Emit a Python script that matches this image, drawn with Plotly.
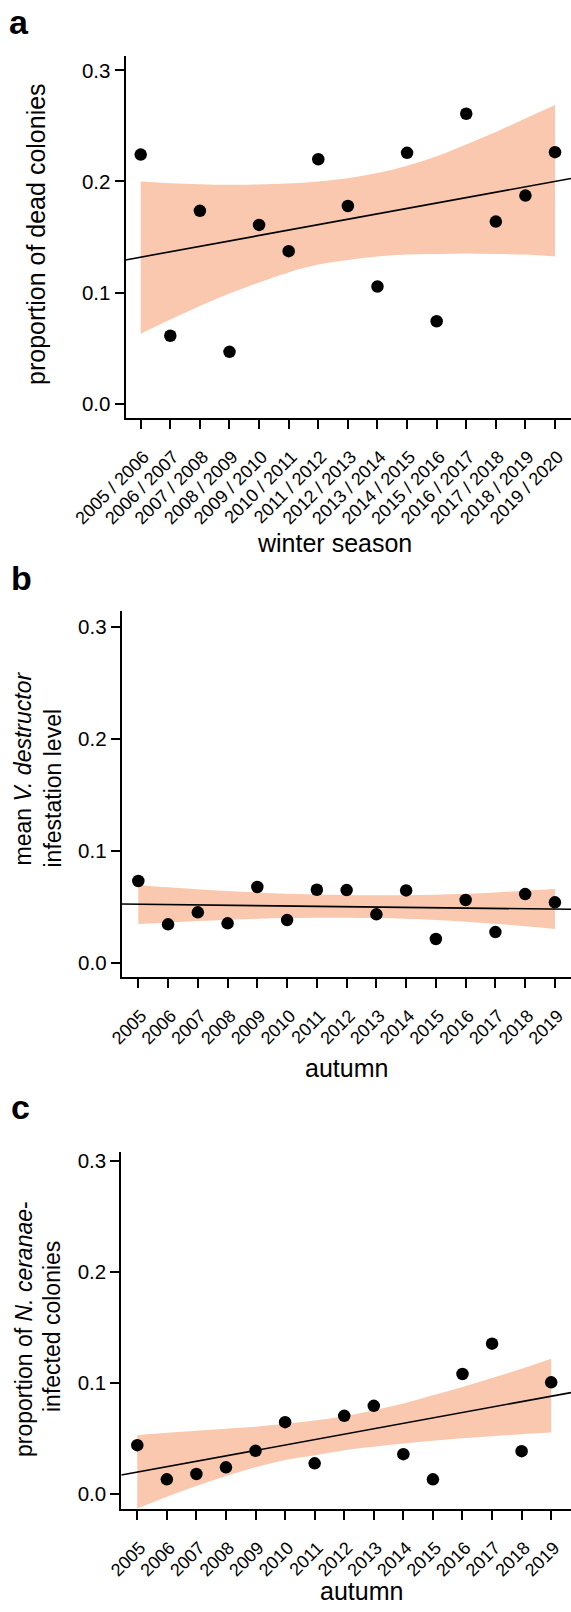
import plotly.graph_objects as go

# ---------------- data ----------------
seasons = ["2005 / 2006", "2006 / 2007", "2007 / 2008", "2008 / 2009", "2009 / 2010",
           "2010 / 2011", "2011 / 2012", "2012 / 2013", "2013 / 2014", "2014 / 2015",
           "2015 / 2016", "2016 / 2017", "2017 / 2018", "2018 / 2019", "2019 / 2020"]
years = ["2005", "2006", "2007", "2008", "2009", "2010", "2011", "2012", "2013",
         "2014", "2015", "2016", "2017", "2018", "2019"]

dead = [0.2242, 0.0612, 0.1736, 0.0467, 0.1609, 0.1373, 0.2200, 0.1779, 0.1055,
        0.2258, 0.0742, 0.2609, 0.1639, 0.1873, 0.2264]
dead_upper = [0.2000, 0.1985, 0.1976, 0.1970, 0.1973, 0.1982, 0.2000, 0.2030, 0.2076,
              0.2142, 0.2227, 0.2333, 0.2445, 0.2567, 0.2688]
dead_lower = [0.0630, 0.0758, 0.0879, 0.0991, 0.1091, 0.1182, 0.1252, 0.1294, 0.1324,
              0.1342, 0.1348, 0.1352, 0.1348, 0.1342, 0.1324]
dead_fit = [0.1294, 0.2027]          # fit line at left / right end of the axis

varroa = [0.0730, 0.0343, 0.0450, 0.0352, 0.0676, 0.0381, 0.0652, 0.0649, 0.0432,
          0.0646, 0.0212, 0.0560, 0.0274, 0.0613, 0.0539]
varroa_upper = [0.0694, 0.0673, 0.0655, 0.0640, 0.0628, 0.0616, 0.0610, 0.0604, 0.0602,
                0.0602, 0.0607, 0.0616, 0.0628, 0.0643, 0.0658]
varroa_lower = [0.0346, 0.0360, 0.0372, 0.0384, 0.0393, 0.0399, 0.0402, 0.0402, 0.0399,
                0.0393, 0.0381, 0.0366, 0.0348, 0.0325, 0.0301]
varroa_fit = [0.0524, 0.0477]

nosema = [0.0440, 0.0132, 0.0180, 0.0240, 0.0389, 0.0647, 0.0276, 0.0704, 0.0794,
          0.0359, 0.0132, 0.1081, 0.1354, 0.0386, 0.1006]
nosema_upper = [0.0530, 0.0551, 0.0569, 0.0587, 0.0605, 0.0632, 0.0662, 0.0701, 0.0755,
                0.0815, 0.0889, 0.0964, 0.1045, 0.1129, 0.1219]
nosema_lower = [-0.0130, -0.0024, 0.0072, 0.0162, 0.0240, 0.0305, 0.0350, 0.0395, 0.0425,
                0.0455, 0.0479, 0.0503, 0.0521, 0.0539, 0.0554]
nosema_fit = [0.0171, 0.0913]

y_ticks = [0.0, 0.1, 0.2, 0.3]

# ---------------- layout helpers ----------------
W, H = 571, 1612
FONT = "Liberation Sans, Arial, Helvetica, sans-serif"
BAND = "#F9C8AE"


def px_x(p):
    return p / W


def px_y(p):
    return 1 - p / H


panels = [
    dict(v=dead, up=dead_upper, lo=dead_lower, fit=dead_fit, lab=seasons,
         xr=[-0.514, 14.54], yr=[-0.0131, 0.3129], xd=(125.5, 571), yd=(56, 418.3)),
    dict(v=varroa, up=varroa_upper, lo=varroa_lower, fit=varroa_fit, lab=years,
         xr=[-0.558, 14.54], yr=[-0.0130, 0.3143], xd=(121.7, 571), yd=(610.7, 977.3)),
    dict(v=nosema, up=nosema_upper, lo=nosema_lower, fit=nosema_fit, lab=years,
         xr=[-0.54, 14.67], yr=[-0.0138, 0.3078], xd=(121.3, 571), yd=(1152.3, 1509.3)),
]

fig = go.Figure()
layout = dict(width=W, height=H, autosize=False,
              margin=dict(l=0, r=0, t=0, b=0, pad=0, autoexpand=False),
              paper_bgcolor="white", plot_bgcolor="white",
              showlegend=False, font=dict(family=FONT, color="black"))

for i, p in enumerate(panels):
    n = "" if i == 0 else str(i + 1)
    xa, ya = "x" + n, "y" + n
    idx = list(range(len(p["v"])))
    fig.add_trace(go.Scatter(x=idx, y=p["lo"], mode="lines", line=dict(width=0, shape="spline"),
                             xaxis=xa, yaxis=ya, hoverinfo="skip"))
    fig.add_trace(go.Scatter(x=idx, y=p["up"], mode="lines", line=dict(width=0, shape="spline"),
                             fill="tonexty", fillcolor=BAND, xaxis=xa, yaxis=ya, hoverinfo="skip"))
    fig.add_trace(go.Scatter(x=p["xr"], y=p["fit"], mode="lines",
                             line=dict(color="black", width=1.6), xaxis=xa, yaxis=ya))
    fig.add_trace(go.Scatter(x=idx, y=p["v"], mode="markers",
                             marker=dict(color="black", size=12.5, line=dict(width=0)),
                             xaxis=xa, yaxis=ya, cliponaxis=False))

    layout["xaxis" + n] = dict(
        domain=[px_x(p["xd"][0]), px_x(p["xd"][1])], range=p["xr"], anchor=ya,
        automargin=False,
        tickmode="array", tickvals=idx, ticktext=p["lab"], tickangle=-45,
        ticks="outside", ticklen=9, tickwidth=2, tickcolor="black",
        ticklabelstandoff=10, ticklabelshift=3,
        showline=True, linewidth=2, linecolor="black",
        showgrid=False, zeroline=False,
        tickfont=dict(family=FONT, size=18, color="black"))
    layout["yaxis" + n] = dict(
        domain=[px_y(p["yd"][1]), px_y(p["yd"][0])], range=p["yr"], anchor=xa,
        automargin=False,
        tickmode="array", tickvals=y_ticks, ticktext=[f"{t:.1f}" for t in y_ticks],
        ticks="outside", ticklen=9, tickwidth=2, tickcolor="black",
        showline=True, linewidth=2, linecolor="black",
        showgrid=False, zeroline=False,
        tickfont=dict(family=FONT, size=20.5, color="black"))


def ann(text, x, y, size, angle=0, bold=False):
    return dict(text=f"<b>{text}</b>" if bold else text, x=px_x(x), y=px_y(y),
                xref="paper", yref="paper", xanchor="center", yanchor="middle",
                showarrow=False, textangle=angle,
                font=dict(family=FONT, size=size, color="black"))


annotations = [
    ann("a", 19, 22, 34, bold=True),
    ann("b", 21, 578, 34, bold=True),
    ann("c", 20, 1107, 34, bold=True),
    ann("proportion of dead colonies", 36, 234, 25, angle=-90),
    ann("winter season", 334, 543, 25),
    ann("mean <i>V. destructor</i>", 23, 768.5, 23, angle=-90),
    ann("infestation level", 52, 788.5, 23, angle=-90),
    ann("autumn", 346, 1068, 25),
    ann("proportion of <i>N. ceranae</i>-", 24, 1329, 23, angle=-90),
    ann("infected colonies", 52, 1327, 23, angle=-90),
    ann("autumn", 361, 1591, 25),
]
layout["annotations"] = annotations
fig.update_layout(**layout)

fig.write_html("out.html")
